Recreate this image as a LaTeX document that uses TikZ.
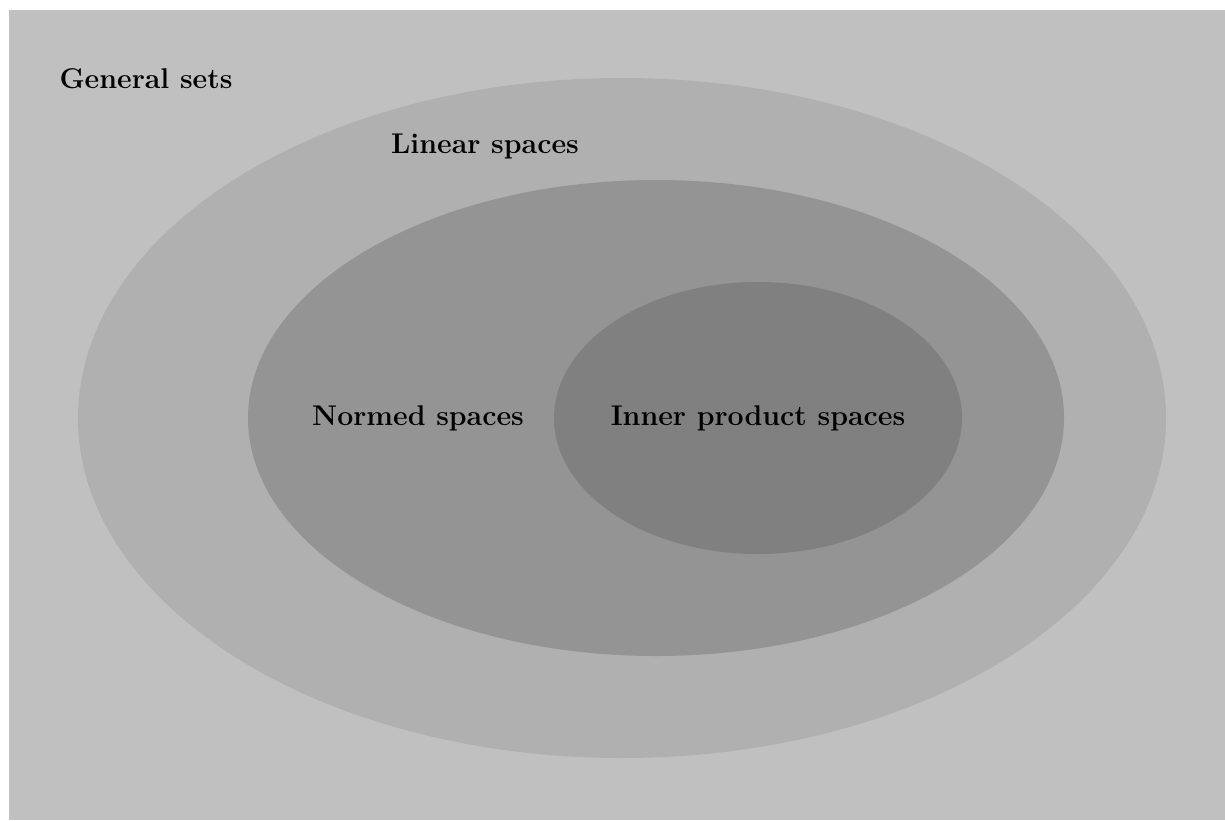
\documentclass[tikz,border=0pt]{standalone}
\usetikzlibrary{shapes.geometric}
\definecolor{bggray}{HTML}{C0C0C0}
\definecolor{lineargray}{HTML}{B0B0B0}
\definecolor{normedgray}{HTML}{949494}
\definecolor{innergray}{HTML}{808080}

\begin{document}
\begin{tikzpicture}[x=1pt,y=-1pt,
  setblob/.style={ellipse,draw=none,inner sep=0pt,outer sep=0pt},
  setname/.style={anchor=base,inner sep=0pt,font=\bfseries\fontsize{28.5}{34}\selectfont}]
\useasboundingbox (0,0) rectangle (1225,820);
\fill[bggray] (9,10) rectangle (1225,820);

\node[setblob,fill=lineargray,minimum width=1088,minimum height=680] (linear) at (622,418) {};
\node[setblob,fill=normedgray,minimum width=816,minimum height=476] (normed) at (656,418) {};
\node[setblob,fill=innergray,minimum width=408,minimum height=272] (inner) at (758,418) {};

\node[setname] (generaltxt) at (146,88) {General sets};
\node[setname] (lineartxt) at (485,153) {Linear spaces};
\node[setname] (normedtxt) at (418,425) {Normed spaces};
\node[setname] (innertxt) at (758,425) {Inner product spaces};
\end{tikzpicture}
\end{document}
